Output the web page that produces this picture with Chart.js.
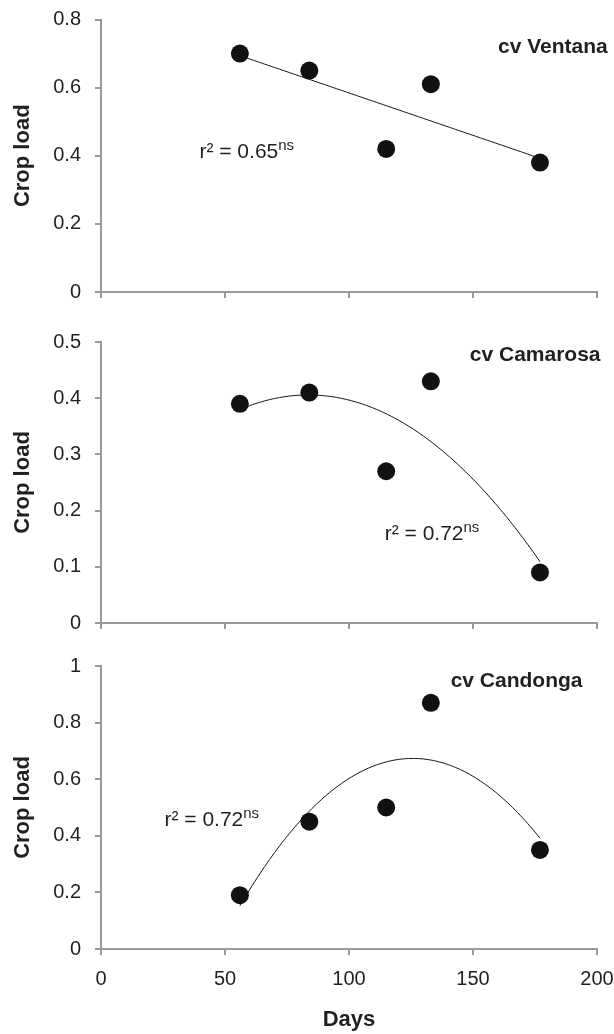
<!DOCTYPE html>
<html>
<head>
<meta charset="utf-8">
<script src="https://cdn.jsdelivr.net/npm/chart.js@4.4.0/dist/chart.umd.min.js"></script>
<style>
  body { margin: 0; background: #fff; }
  #wrap { position: relative; width: 614px; height: 1034px; }
  canvas { position: absolute; left: 0; }
</style>
</head>
<body>
<div id="wrap">
  <canvas id="chartVentana" width="614" height="320" style="top:0"></canvas>
  <canvas id="chartCamarosa" width="614" height="320" style="top:320px"></canvas>
  <canvas id="chartCandonga" width="614" height="394" style="top:640px"></canvas>
</div>
<script>
// sampling dates (days) shared by the three cultivars
const days = [56, 84, 115, 133, 177];

const ventana = [0.70, 0.65, 0.42, 0.61, 0.38];
const camarosa = [0.39, 0.41, 0.27, 0.43, 0.09];
const candonga = [0.19, 0.45, 0.50, 0.87, 0.35];

const xTicks = [0, 50, 100, 150, 200];
const yTicksVentana = [0, 0.2, 0.4, 0.6, 0.8];
const yTicksCamarosa = [0, 0.1, 0.2, 0.3, 0.4, 0.5];
const yTicksCandonga = [0, 0.2, 0.4, 0.6, 0.8, 1];

const rSquared = ['0.65', '0.72', '0.72'];

const TEXT = '#231f20';
const AXIS = '#9a9a9a';
const FONT = '"Liberation Sans", Arial, sans-serif';

Chart.defaults.font.family = FONT;
Chart.defaults.color = TEXT;

// least squares polynomial fit (normal equations + gaussian elimination)
function polyfit(xs, ys, deg) {
  const n = deg + 1;
  const A = [];
  for (let r = 0; r < n; r++) {
    const row = [];
    for (let c = 0; c < n; c++) row.push(xs.reduce((s, x) => s + Math.pow(x, r + c), 0));
    row.push(xs.reduce((s, x, i) => s + Math.pow(x, r) * ys[i], 0));
    A.push(row);
  }
  for (let i = 0; i < n; i++) {
    for (let k = i + 1; k < n; k++) {
      const f = A[k][i] / A[i][i];
      for (let j = i; j <= n; j++) A[k][j] -= f * A[i][j];
    }
  }
  const coef = new Array(n).fill(0);
  for (let i = n - 1; i >= 0; i--) {
    let s = A[i][n];
    for (let j = i + 1; j < n; j++) s -= A[i][j] * coef[j];
    coef[i] = s / A[i][i];
  }
  return x => coef.reduce((s, c, p) => s + c * Math.pow(x, p), 0);
}

// cultivar name and r² note, placed in data units
const panelLabels = {
  id: 'panelLabels',
  afterDatasetsDraw(chart, args, opts) {
    const {ctx, scales: {x, y}} = chart;
    ctx.save();
    ctx.fillStyle = TEXT;
    ctx.textAlign = 'left';
    ctx.textBaseline = 'alphabetic';
    ctx.font = 'bold 21px ' + FONT;
    ctx.fillText(opts.name, x.getPixelForValue(opts.nameAt[0]), y.getPixelForValue(opts.nameAt[1]));
    const rx = x.getPixelForValue(opts.fitAt[0]);
    const ry = y.getPixelForValue(opts.fitAt[1]);
    ctx.font = '21px ' + FONT;
    const main = 'r\u00b2 = ' + opts.r2;
    ctx.fillText(main, rx, ry);
    const w = ctx.measureText(main).width;
    ctx.font = '15px ' + FONT;
    ctx.fillText('ns', rx + w, ry - 8);
    ctx.restore();
  }
};

// keep the plot area fixed: no extra room for overhanging tick labels
function noPadding(s) {
  s.paddingTop = 0;
  s.paddingBottom = 0;
  s.paddingLeft = 0;
  s.paddingRight = 0;
}

function makePanel(id, values, yTicks, degree, o) {
  const fit = polyfit(days, values, degree);
  const trend = [];
  for (let d = days[0]; d <= days[days.length - 1]; d++) trend.push({x: d, y: fit(d)});

  const axisGrid = { drawOnChartArea: false, drawTicks: true, tickLength: 6, color: AXIS, lineWidth: 2 };

  return new Chart(document.getElementById(id), {
    type: 'scatter',
    data: {
      datasets: [{
        label: o.name,
        data: days.map((d, i) => ({x: d, y: values[i]})),
        pointRadius: 9,
        pointHoverRadius: 9,
        backgroundColor: '#111',
        borderWidth: 0,
        clip: false,
        order: 0
      }, {
        label: 'trend',
        data: trend,
        showLine: true,
        pointRadius: 0,
        borderColor: '#111',
        borderWidth: 1,
        tension: 0,
        order: 1
      }]
    },
    options: {
      responsive: false,
      animation: false,
      layout: { padding: { top: o.padTop, right: 17, left: 0, bottom: 0 } },
      scales: {
        x: {
          type: 'linear',
          min: 0,
          max: 200,
          afterBuildTicks: s => { s.ticks = xTicks.map(v => ({value: v})); },
          afterFit: s => { s.height = o.xAxisH; noPadding(s); },
          ticks: { display: o.showX, font: {size: 20}, padding: 12, maxRotation: 0 },
          grid: axisGrid,
          border: { color: AXIS, width: 2 },
          title: { display: o.showX, text: 'Days', font: {size: 22, weight: 'bold'}, padding: {top: 0, bottom: 1} }
        },
        y: {
          min: 0,
          max: yTicks[yTicks.length - 1],
          afterBuildTicks: s => { s.ticks = yTicks.map(v => ({value: v})); },
          afterFit: s => { s.width = 101; noPadding(s); },
          ticks: { font: {size: 20}, padding: 14, callback: v => String(v) },
          grid: axisGrid,
          border: { color: AXIS, width: 2 },
          title: { display: true, text: 'Crop load', font: {size: 22, weight: 'bold'}, padding: {top: 10, bottom: 0} }
        }
      },
      plugins: {
        legend: { display: false },
        tooltip: { enabled: false },
        panelLabels: { name: o.name, r2: o.r2, nameAt: o.nameAt, fitAt: o.fitAt }
      }
    },
    plugins: [panelLabels]
  });
}

makePanel('chartVentana', ventana, yTicksVentana, 1, {
  name: 'cv Ventana', r2: rSquared[0], padTop: 19.5, xAxisH: 28, showX: false,
  nameAt: [160.1, 0.701], fitAt: [39.7, 0.3925]
});
makePanel('chartCamarosa', camarosa, yTicksCamarosa, 2, {
  name: 'cv Camarosa', r2: rSquared[1], padTop: 22, xAxisH: 17, showX: false,
  nameAt: [148.7, 0.466], fitAt: [114.4, 0.148]
});
makePanel('chartCandonga', candonga, yTicksCandonga, 2, {
  name: 'cv Candonga', r2: rSquared[2], padTop: 26, xAxisH: 85, showX: true,
  nameAt: [141, 0.926], fitAt: [25.6, 0.435]
});
</script>
</body>
</html>
